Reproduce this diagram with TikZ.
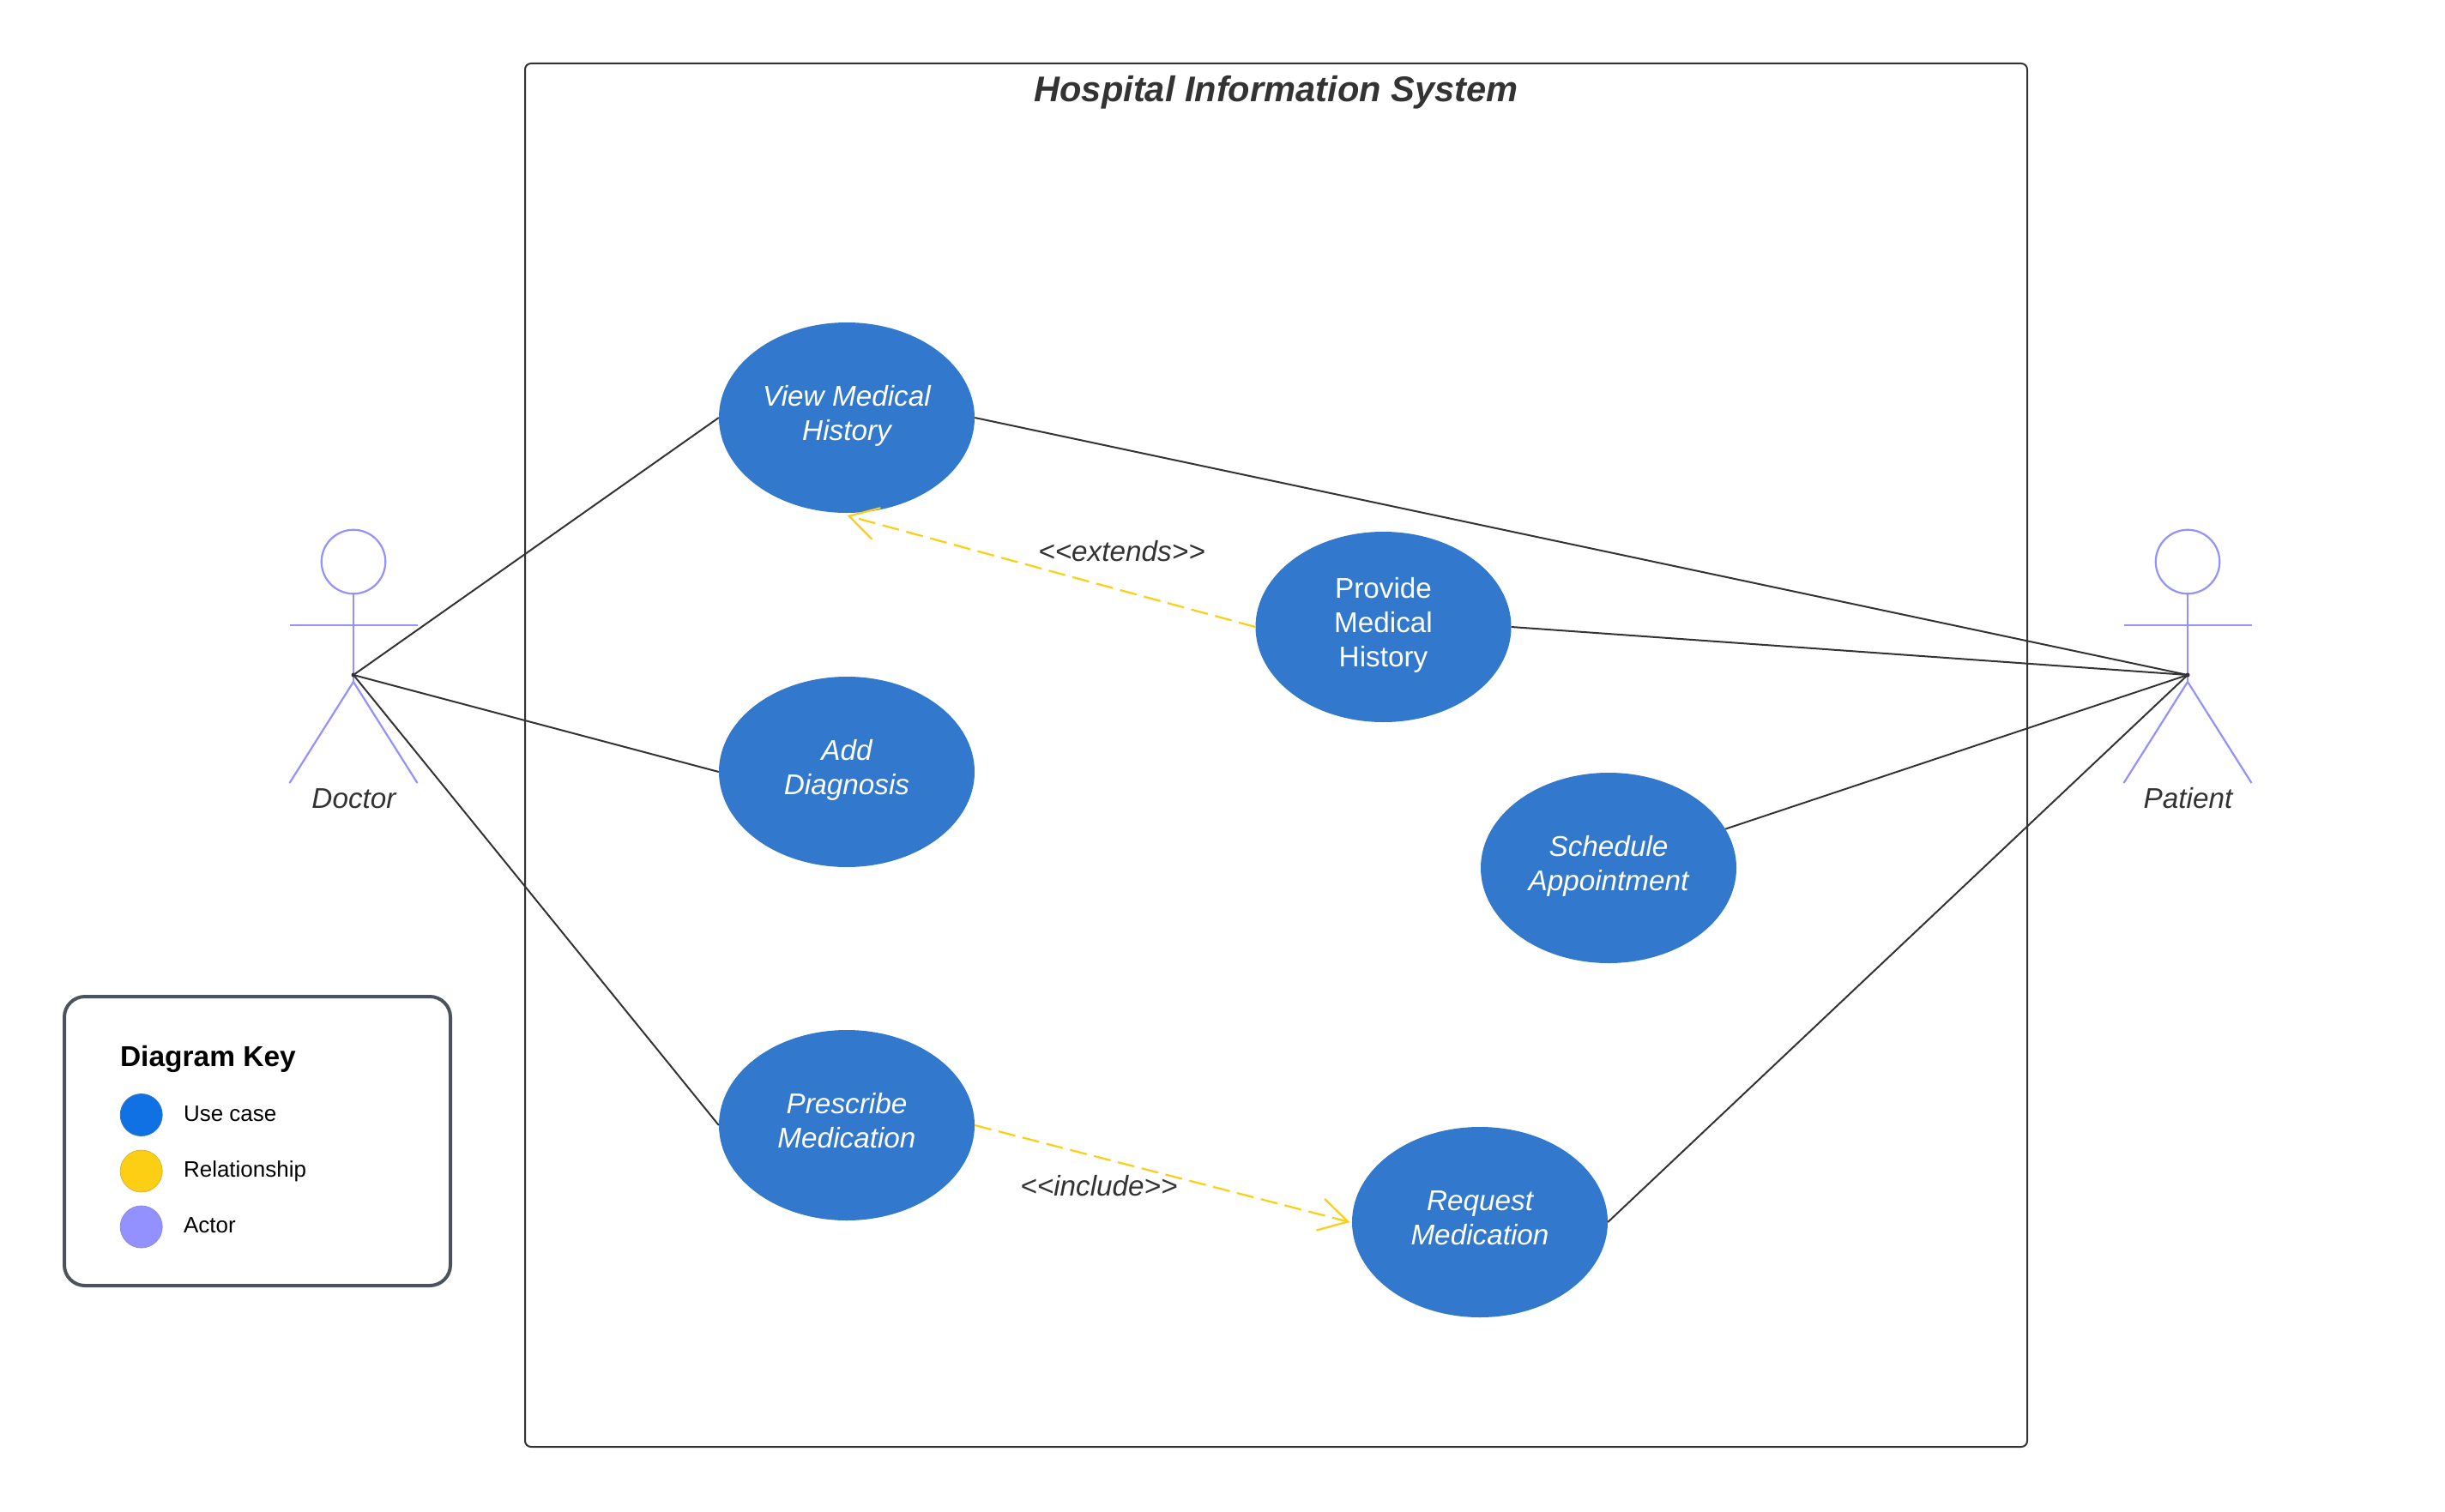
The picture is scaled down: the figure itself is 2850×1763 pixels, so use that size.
\documentclass[tikz,border=0pt]{standalone}
\usepackage{fontspec}
\setmainfont{Liberation Sans}
\usetikzlibrary{shapes.geometric,arrows.meta}
\definecolor{ink}{HTML}{333333}
\definecolor{ucblue}{HTML}{3278CC}
\definecolor{keyblue}{HTML}{1071E5}
\definecolor{keyyellow}{HTML}{FCCE14}
\definecolor{keypurple}{HTML}{9391FF}
\definecolor{keyframe}{HTML}{4C535D}
\tikzset{
  x=1pt,y=-1pt,
  usecase/.style={ellipse,fill=ucblue,draw=none,minimum width=298pt,minimum height=222pt,inner sep=0pt},
  uctext/.style={align=center,text=white,inner sep=0pt,font=\fontsize{33.3}{40}\selectfont\itshape},
  uctextup/.style={uctext,font=\fontsize{33.3}{40}\selectfont},
  assoc/.style={draw=ink,line width=2pt},
  rel/.style={draw=keyyellow,line width=2.2pt,dash pattern=on 20pt off 8.7pt,-{Straight Barb[length=33pt,width=38pt,line width=2.2pt]}},
  actorline/.style={draw=keypurple,line width=2.2pt},
  actorhead/.style={circle,draw=keypurple,line width=2.2pt,minimum size=74.5pt,inner sep=0pt},
  actorlabel/.style={anchor=base,text=ink,font=\fontsize{33.3}{40}\selectfont\itshape},
  rellabel/.style={anchor=base,text=ink,font=\fontsize{33.3}{40}\selectfont\itshape},
  keydot/.style={circle,minimum size=49pt,inner sep=0pt,line width=0.8pt},
  keytext/.style={anchor=base west,text=black,font=\fontsize{26}{30}\selectfont},
}
\begin{document}
\begin{tikzpicture}
\useasboundingbox (0,0) rectangle (2850,1763);
\fill[white] (0,0) rectangle (2850,1763);
% system frame
\node[draw=ink,line width=2pt,rounded corners=7pt,minimum width=1751pt,minimum height=1613pt,inner sep=0pt] (frame) at (1487.5,880.5) {};
\node[anchor=base,text=ink,font=\fontsize{41.6}{48}\selectfont\bfseries\itshape] (title) at (1487.5,119) {Hospital Information System};
% use cases
\node[usecase,label={[uctext,yshift=2pt]center:View Medical\\History}] (view) at (987,487) {};
\node[usecase,label={[uctext,yshift=2pt]center:Add\\Diagnosis}] (add) at (987,900) {};
\node[usecase,label={[uctext,yshift=5pt]center:Prescribe\\Medication}] (prescribe) at (987,1312) {};
\node[usecase,label={[uctextup,yshift=2pt]center:Provide\\Medical\\History}] (provide) at (1612.5,731) {};
\node[usecase,label={[uctext,yshift=2pt]center:Schedule\\Appointment}] (schedule) at (1875,1012) {};
\node[usecase,label={[uctext,yshift=5pt]center:Request\\Medication}] (request) at (1725,1425) {};
\coordinate (viewtip) at ([yshift=-3pt,xshift=0.5pt]view.south);
\coordinate (requesttip) at ([xshift=-2.5pt]request.west);
% actors
\foreach \nm/\cx/\lab in {doc/412/Doctor,pat/2550/Patient}{
  \node[actorhead] (\nm head) at (\cx,655) {};
  \coordinate (\nm hip) at (\cx,795);
  \coordinate (\nm al) at (\cx-74.5,729);
  \coordinate (\nm ar) at (\cx+74.5,729);
  \coordinate (\nm ll) at (\cx-74.5,913);
  \coordinate (\nm lr) at (\cx+74.5,913);
  \coordinate (\nm joint) at (\cx,787);
  \draw[actorline] (\nm head.south) -- (\nm hip);
  \draw[actorline] (\nm al) -- (\nm ar);
  \draw[actorline] (\nm ll) -- (\nm hip) -- (\nm lr);
  \node[actorlabel] (\nm label) at (\cx+0.5,942) {\lab};
}
% associations
\draw[assoc] (docjoint) -- (view.west);
\draw[assoc] (docjoint) -- (add.west);
\draw[assoc] (docjoint) -- (prescribe.west);
\draw[assoc] (patjoint) -- (view.east);
\draw[assoc] (patjoint) -- (provide.east);
\draw[assoc] (patjoint) -- (schedule);
\draw[assoc] (patjoint) -- (request.east);
\fill[ink] (docjoint) circle (2.5);
\fill[ink] (patjoint) circle (2.5);
% relationships
\draw[rel] (provide.west) -- (viewtip);
\draw[rel] (prescribe.east) -- (requesttip);
\node[rellabel] (extends) at (1307.5,654) {<{}<extends>{}>};
\node[rellabel] (include) at (1281,1394) {<{}<include>{}>};
% key
\node[draw=keyframe,line width=4pt,rounded corners=24pt,minimum width=450pt,minimum height=337pt,inner sep=0pt] (key) at (300,1330.5) {};
\node[anchor=base west,text=black,font=\fontsize{33.5}{40}\selectfont\bfseries] (keytitle) at (136.5,1243) {Diagram Key};
\node[keydot,fill=keyblue,draw=keyblue!70!gray] (k1) at (164.7,1300) {};
\node[keydot,fill=keyyellow,draw=keyyellow!70!gray] (k2) at (164.7,1365.5) {};
\node[keydot,fill=keypurple,draw=keypurple!70!gray] (k3) at (164.7,1430.5) {};
\node[keytext] (t1) at (210.5,1307) {Use case};
\node[keytext] (t2) at (210.5,1372.5) {Relationship};
\node[keytext] (t3) at (210.5,1437.5) {Actor};
\end{tikzpicture}
\end{document}
